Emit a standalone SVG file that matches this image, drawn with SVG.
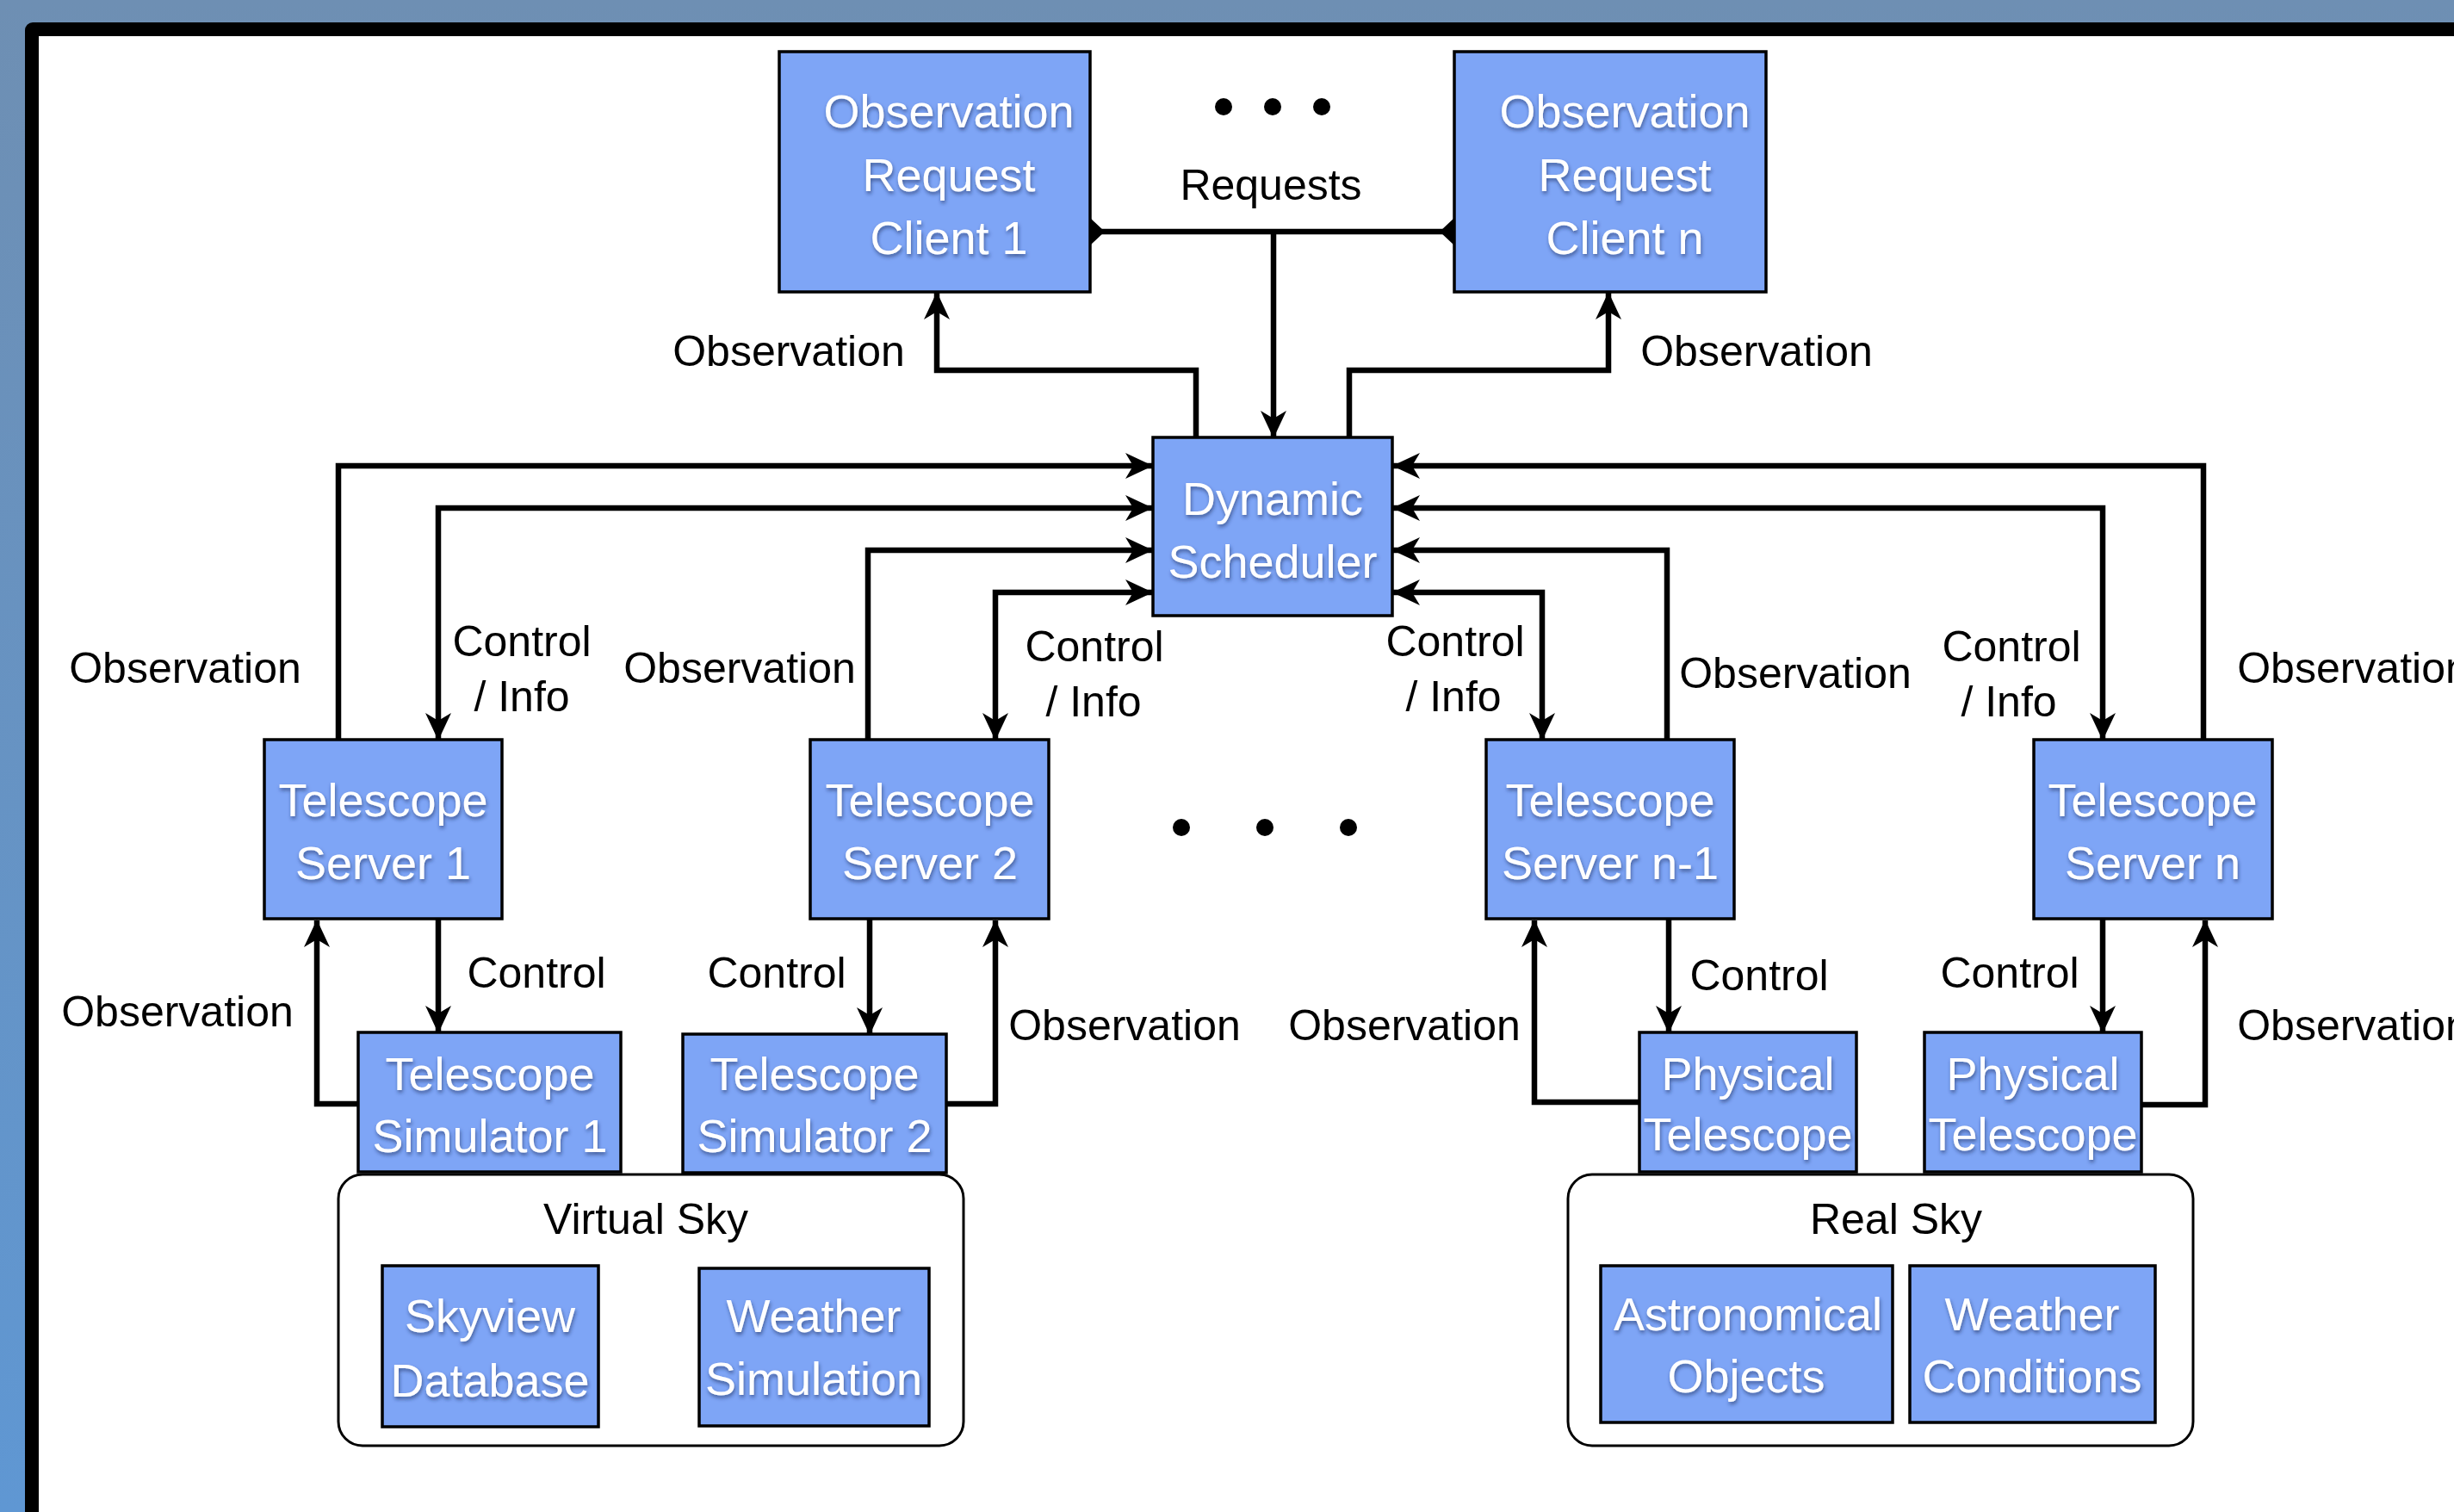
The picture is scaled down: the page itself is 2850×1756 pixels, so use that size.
<svg xmlns="http://www.w3.org/2000/svg" width="2850" height="1756" viewBox="0 0 2850 1756">
<defs>
<linearGradient id="bg" x1="0" y1="0" x2="0" y2="1">
<stop offset="0" stop-color="#6e8fb3"/>
<stop offset="1" stop-color="#5f97d3"/>
</linearGradient>
<filter id="sh" x="-10%" y="-30%" width="120%" height="160%">
<feDropShadow dx="1" dy="3" stdDeviation="2.2" flood-color="#1c2c5c" flood-opacity="0.6"/>
</filter>
<marker id="ah" viewBox="0 0 32 30" refX="31" refY="15" markerWidth="32" markerHeight="30" markerUnits="userSpaceOnUse" orient="auto-start-reverse">
<path d="M0,0 L32,15 L0,30 L9,15 Z" fill="#000"/>
</marker>
<style>
.box{fill:#7ea5f6;stroke:#000;stroke-width:3.5}
.cont{fill:#fff;stroke:#000;stroke-width:3}
.nt{font-family:"Liberation Sans",Arial,sans-serif;font-size:54px;fill:#fff;text-anchor:middle;filter:url(#sh)}
.lb{font-family:"Liberation Sans",Arial,sans-serif;font-size:50px;fill:#000;text-anchor:middle}
.c{fill:none;stroke:#000;stroke-width:6.5;stroke-linejoin:miter}
.one{marker-end:url(#ah)}
.two{marker-start:url(#ah);marker-end:url(#ah)}
</style>
</defs>
<rect x="0" y="0" width="2850" height="1756" fill="url(#bg)"/>
<rect x="29" y="26" width="2900" height="1800" rx="9" fill="#000"/>
<rect x="45" y="42" width="2900" height="1800" fill="#fff"/>

<g id="virtual-sky">
<rect class="cont" x="393" y="1364" width="726" height="315" rx="28"/>
<text class="lb" x="750" y="1433">Virtual Sky</text>
</g>
<g id="real-sky">
<rect class="cont" x="1821" y="1364" width="726" height="315" rx="28"/>
<text class="lb" x="2202" y="1433">Real Sky</text>
</g>

<g id="connectors">
<path class="c" d="M1266,269 H1689" stroke-width="8"/>
<polygon points="1266,253 1283,269 1266,285" fill="#000"/>
<polygon points="1689,253 1672,269 1689,285" fill="#000"/>
<path class="c one" d="M1479,269 V508"/>
<path class="c one" d="M1389,508 V430 H1088 V340"/>
<path class="c one" d="M1567,508 V430 H1868 V340"/>
<path class="c one" d="M393,859 V541 H1338"/>
<path class="c two" d="M509,859 V590 H1338"/>
<path class="c one" d="M1008,859 V639 H1338"/>
<path class="c two" d="M1156,859 V688 H1338"/>
<path class="c one" d="M2559,859 V541 H1618"/>
<path class="c two" d="M2442,859 V590 H1618"/>
<path class="c one" d="M1936,859 V639 H1618"/>
<path class="c two" d="M1791,859 V688 H1618"/>
<path class="c one" d="M416,1282 H368 V1069"/>
<path class="c one" d="M509,1067 V1199"/>
<path class="c one" d="M1010,1067 V1201"/>
<path class="c one" d="M1099,1282 H1156 V1069"/>
<path class="c one" d="M1904,1280 H1782 V1069"/>
<path class="c one" d="M1938,1067 V1199"/>
<path class="c one" d="M2442,1067 V1199"/>
<path class="c one" d="M2487,1283 H2561 V1069"/>
</g>

<g id="labels">
<text class="lb" x="1476" y="232">Requests</text>
<text class="lb" x="916" y="425">Observation</text>
<text class="lb" x="2040" y="425">Observation</text>
<text class="lb" x="215" y="793">Observation</text>
<text class="lb" x="606" y="762">Control</text>
<text class="lb" x="606" y="826">/ Info</text>
<text class="lb" x="859" y="793">Observation</text>
<text class="lb" x="1271" y="768">Control</text>
<text class="lb" x="1270" y="832">/ Info</text>
<text class="lb" x="1690" y="762">Control</text>
<text class="lb" x="1688" y="826">/ Info</text>
<text class="lb" x="2085" y="799">Observation</text>
<text class="lb" x="2336" y="768">Control</text>
<text class="lb" x="2333" y="832">/ Info</text>
<text class="lb" x="2733" y="793">Observation</text>
<text class="lb" x="206" y="1192">Observation</text>
<text class="lb" x="623" y="1147">Control</text>
<text class="lb" x="902" y="1147">Control</text>
<text class="lb" x="1306" y="1208">Observation</text>
<text class="lb" x="1631" y="1208">Observation</text>
<text class="lb" x="2043" y="1150">Control</text>
<text class="lb" x="2334" y="1147">Control</text>
<text class="lb" x="2733" y="1208">Observation</text>
</g>

<g id="dots">
<circle cx="1421" cy="124" r="10"/>
<circle cx="1478" cy="124" r="10"/>
<circle cx="1535" cy="124" r="10"/>
<circle cx="1372" cy="961" r="10"/>
<circle cx="1469" cy="961" r="10"/>
<circle cx="1566" cy="961" r="10"/>
</g>

<g id="client-1">
<rect class="box" x="905" y="60" width="361" height="279"/>
<text class="nt" x="1102" y="148">Observation</text>
<text class="nt" x="1102" y="222">Request</text>
<text class="nt" x="1102" y="295">Client 1</text>
</g>
<g id="client-n">
<rect class="box" x="1689" y="60" width="362" height="279"/>
<text class="nt" x="1887" y="148">Observation</text>
<text class="nt" x="1887" y="222">Request</text>
<text class="nt" x="1887" y="295">Client n</text>
</g>
<g id="scheduler">
<rect class="box" x="1339" y="508" width="278" height="207"/>
<text class="nt" x="1478" y="598">Dynamic</text>
<text class="nt" x="1478" y="671">Scheduler</text>
</g>
<g id="server-1">
<rect class="box" x="307" y="859" width="276" height="208"/>
<text class="nt" x="445" y="948">Telescope</text>
<text class="nt" x="445" y="1021">Server 1</text>
</g>
<g id="server-2">
<rect class="box" x="941" y="859" width="277" height="208"/>
<text class="nt" x="1080" y="948">Telescope</text>
<text class="nt" x="1080" y="1021">Server 2</text>
</g>
<g id="server-n-1">
<rect class="box" x="1726" y="859" width="288" height="208"/>
<text class="nt" x="1870" y="948">Telescope</text>
<text class="nt" x="1870" y="1021">Server n-1</text>
</g>
<g id="server-n">
<rect class="box" x="2362" y="859" width="277" height="208"/>
<text class="nt" x="2500" y="948">Telescope</text>
<text class="nt" x="2500" y="1021">Server n</text>
</g>
<g id="simulator-1">
<rect class="box" x="416" y="1199" width="305" height="162"/>
<text class="nt" x="569" y="1266">Telescope</text>
<text class="nt" x="569" y="1338">Simulator 1</text>
</g>
<g id="simulator-2">
<rect class="box" x="793" y="1201" width="306" height="161"/>
<text class="nt" x="946" y="1266">Telescope</text>
<text class="nt" x="946" y="1338">Simulator 2</text>
</g>
<g id="physical-1">
<rect class="box" x="1904" y="1199" width="252" height="162"/>
<text class="nt" x="2030" y="1266">Physical</text>
<text class="nt" x="2030" y="1336">Telescope</text>
</g>
<g id="physical-2">
<rect class="box" x="2235" y="1199" width="252" height="162"/>
<text class="nt" x="2361" y="1266">Physical</text>
<text class="nt" x="2361" y="1336">Telescope</text>
</g>
<g id="skyview">
<rect class="box" x="444" y="1470" width="251" height="187"/>
<text class="nt" x="569" y="1547">Skyview</text>
<text class="nt" x="569" y="1622">Database</text>
</g>
<g id="weather-sim">
<rect class="box" x="812" y="1473" width="267" height="183"/>
<text class="nt" x="945" y="1547">Weather</text>
<text class="nt" x="945" y="1620">Simulation</text>
</g>
<g id="astro">
<rect class="box" x="1859" y="1470" width="339" height="182"/>
<text class="nt" x="2030" y="1545">Astronomical</text>
<text class="nt" x="2028" y="1617">Objects</text>
</g>
<g id="weather-cond">
<rect class="box" x="2218" y="1470" width="285" height="182"/>
<text class="nt" x="2360" y="1545">Weather</text>
<text class="nt" x="2360" y="1617">Conditions</text>
</g>
</svg>
